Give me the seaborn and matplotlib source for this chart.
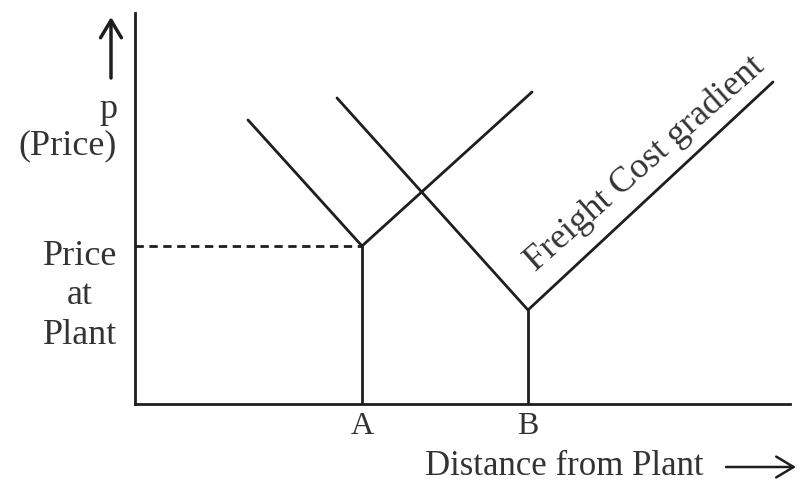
import matplotlib
matplotlib.use('Agg')
from matplotlib import pyplot as plt
from matplotlib.patches import FancyArrowPatch
import pandas as pd
import seaborn as sns

# plant locations on the distance axis and the mill price at each plant
plants = ['A', 'B']
plant_x = [22.7, 39.3]
plant_price = [15.8, 9.4]

# delivered price lines (freight cost gradients) for each plant: x and y of the V
grad_a_x = [11.3, 22.7, 39.7]
grad_a_y = [28.4, 15.8, 31.2]
grad_b_x = [20.2, 39.3, 63.8]
grad_b_y = [30.6, 9.4, 32.2]

x_max = 65.5
y_max = 39.1

ink = '#1e1e1e'
txt = '#333333'

sns.set_style('white')
plt.rcParams['font.family'] = ['Liberation Serif', 'DejaVu Serif']

fig = plt.figure(figsize=(8, 4.82), dpi=100)
ax = fig.add_axes([135 / 800, 78 / 482, 655 / 800, 391 / 482])

grads = pd.DataFrame({
    'x': grad_a_x + grad_b_x,
    'y': grad_a_y + grad_b_y,
    'plant': ['A'] * 3 + ['B'] * 3,
})
sns.lineplot(data=grads, x='x', y='y', units='plant', estimator=None, sort=False,
             color=ink, lw=2, ax=ax)

# verticals from each plant up to its mill price
for px, pp in zip(plant_x, plant_price):
    ax.plot([px, px], [0, pp], color=ink, lw=2)

# dashed line marking the price at plant A
ax.plot([0, plant_x[0]], [plant_price[0], plant_price[0]], color=ink, lw=2,
        ls=(0, (3, 2)))

ax.set_xlim(0, x_max)
ax.set_ylim(0, y_max)
ax.set_xlabel('')
ax.set_ylabel('')
ax.set_xticks(plant_x)
ax.set_xticklabels(plants, fontsize=23, color=txt)
ax.set_yticks([])
ax.tick_params(axis='x', length=0, pad=6)
sns.despine(ax=ax, top=True, right=True)
for side in ['left', 'bottom']:
    ax.spines[side].set_color(ink)
    ax.spines[side].set_linewidth(2)

# label along plant B's right arm
ax.text(51.0, 24.0, 'Freight Cost gradient', rotation=41.5, rotation_mode='anchor',
        ha='center', va='center', fontsize=26, color=txt)

# y axis labels and arrow
fig.text(117 / 800, 1 - 110 / 482, 'p', ha='right', va='center', fontsize=26,
         color=txt)
fig.text(117 / 800, 1 - 146 / 482, '(Price)', ha='right', va='center', fontsize=26,
         color=txt)
fig.text(80 / 800, 1 - 296 / 482, 'Price\nat\nPlant', ha='center', va='center',
         fontsize=26, linespacing=1.25, color=txt)
fig.add_artist(FancyArrowPatch(
    (111 / 800, 1 - 78 / 482), (111 / 800, 1 - 17 / 482), transform=fig.transFigure,
    arrowstyle='->,head_length=0.5,head_width=0.3', mutation_scale=25,
    color=ink, lw=2.5, shrinkA=0, shrinkB=0))

# x axis title and arrow
fig.text(425 / 800, 1 - 475 / 482, 'Distance from Plant', ha='left', va='baseline',
         fontsize=25, color=txt)
fig.add_artist(FancyArrowPatch(
    (726 / 800, 1 - 467 / 482), (796 / 800, 1 - 467 / 482), transform=fig.transFigure,
    arrowstyle='->,head_length=0.5,head_width=0.3', mutation_scale=25,
    color=ink, lw=1.8, shrinkA=0, shrinkB=0))

fig.savefig('out.png', dpi=100)
